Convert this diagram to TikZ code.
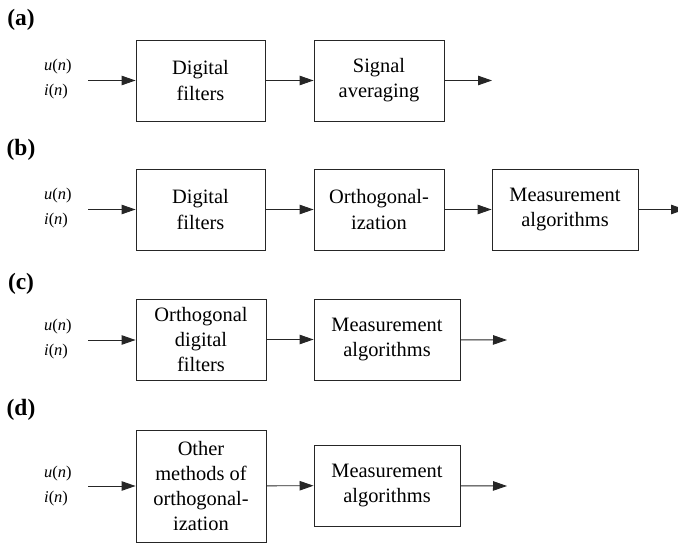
\documentclass[tikz,border=0pt]{standalone}
\usepackage{fontspec}
\setmainfont{Liberation Serif}
\usetikzlibrary{arrows.meta}
% signal name: italic letters, upright parentheses
\newcommand{\sgl}[1]{\textit{#1}(\textit{n})}
\begin{document}
\begin{tikzpicture}[x=1bp,y=-1bp,
  every node/.style={inner sep=0pt},
  blk/.style={draw=black!85, line width=0.9bp, align=center,
    font=\fontsize{20.5}{25.3}\selectfont},
  sig/.style={anchor=west, font=\fontsize{16.5}{18}\selectfont},
  tag/.style={font=\fontsize{23.5}{26}\selectfont\bfseries},
  flow/.style={draw=black!85, line width=0.9bp,
    -{Triangle[length=14bp,width=9.5bp]}}]
\useasboundingbox (0,0) rectangle (678,544);

% (a) filtering followed by averaging
\node[tag] (la) at (21,20) {(a)};
\node[sig] (ua) at (44,67) {\sgl{u}};
\node[sig] (ia) at (44,92) {\sgl{i}};
\coordinate (ina) at (88,80.5);
\node[blk, minimum width=129bp, minimum height=81bp] (a1) at (200.5,80.5) {Digital\\filters};
\node[blk, minimum width=130bp, minimum height=81bp] (a2) at (379,80.5) {Signal\\averaging};
\coordinate (outa) at (492,80.5);
\draw[flow] (ina) -- (a1);
\draw[flow] (a1) -- (a2);
\draw[flow] (a2) -- (outa);

% (b) filtering, orthogonalization, measurement
\node[tag] (lb) at (21,150) {(b)};
\node[sig] (ub) at (44,196) {\sgl{u}};
\node[sig] (ib) at (44,221) {\sgl{i}};
\coordinate (inb) at (88,209.5);
\node[blk, minimum width=129bp, minimum height=81bp] (b1) at (200.5,209.5) {Digital\\filters};
\node[blk, minimum width=130bp, minimum height=81bp] (b2) at (379,209.5) {Orthogonal-\\ization};
\node[blk, minimum width=146bp, minimum height=81bp] (b3) at (565,209.5) {Measurement\\algorithms};
\coordinate (outb) at (685,209.5);
\draw[flow] (inb) -- (b1);
\draw[flow] (b1) -- (b2);
\draw[flow] (b2) -- (b3);
\draw[flow] (b3) -- (outb);

% (c) orthogonal filters, measurement
\node[tag] (lc) at (21,284) {(c)};
\node[sig] (uc) at (44,327) {\sgl{u}};
\node[sig] (ic) at (44,352) {\sgl{i}};
\coordinate (inc) at (88,340);
\node[blk, minimum width=130bp, minimum height=81bp] (c1) at (201,339.5) {Orthogonal\\digital\\filters};
\node[blk, minimum width=146bp, minimum height=81bp] (c2) at (387,339.5) {Measurement\\algorithms};
\coordinate (outc) at (507,340);
\draw[flow] (inc) -- (inc -| c1.west);
\draw[flow] (c1) -- (c2);
\draw[flow] (c2) -- (outc);

% (d) other orthogonalization, measurement
\node[tag] (ld) at (21,410) {(d)};
\node[sig] (ud) at (44,474) {\sgl{u}};
\node[sig] (id) at (44,499) {\sgl{i}};
\coordinate (ind) at (88,486);
\node[blk, minimum width=130bp, minimum height=112bp] (d1) at (201,486) {Other\\methods of\\orthogonal-\\ization};
\node[blk, minimum width=146bp, minimum height=81bp] (d2) at (387,485.5) {Measurement\\algorithms};
\coordinate (outd) at (507,486);
\draw[flow] (ind) -- (ind -| d1.west);
\draw[flow] (d1) -- (d2);
\draw[flow] (d2) -- (outd);
\end{tikzpicture}
\end{document}
